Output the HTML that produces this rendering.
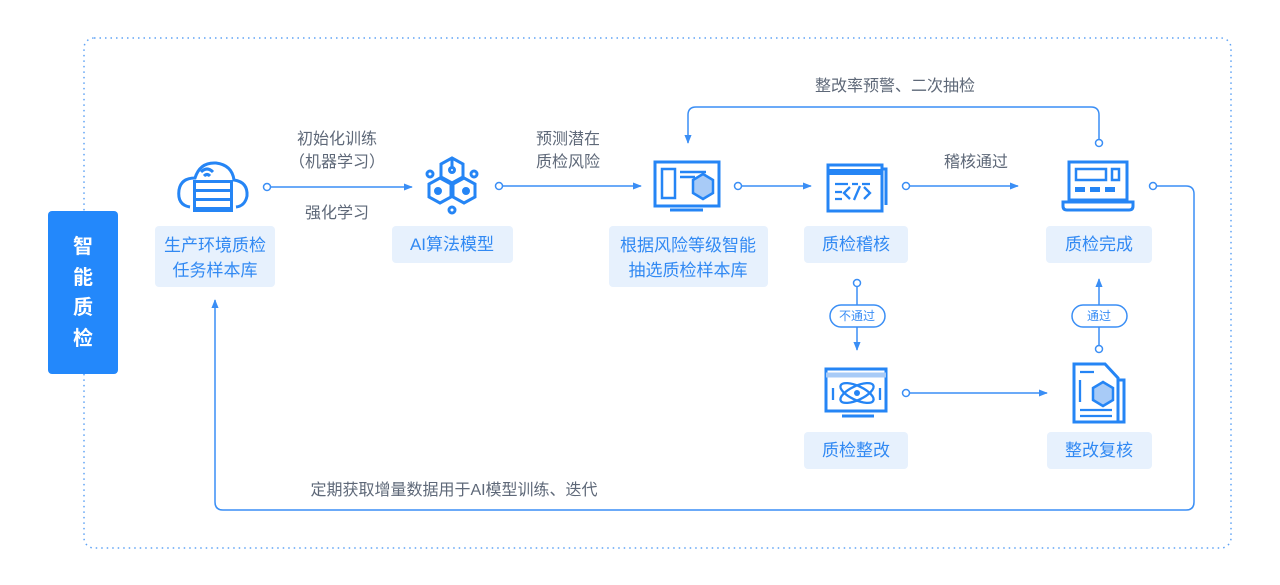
<!DOCTYPE html>
<html><head><meta charset="utf-8"><style>
html,body{margin:0;padding:0;background:#fff;}
svg{display:block;}
text{font-family:"Liberation Sans","Noto Sans CJK SC",sans-serif;}
.g{fill:#5e6878;font-size:16px;text-anchor:middle;}
.b{fill:#3189f3;font-size:17px;text-anchor:middle;}
.box{fill:#e7f1fd;}
.ln{stroke:#3a8ef5;stroke-width:1.5;fill:none;}
.ic{stroke:#2585f5;stroke-width:3;fill:none;}
.icf{fill:#2585f5;}
</style></head><body>
<svg width="1280" height="585" viewBox="0 0 1280 585">
<defs>
<marker id="ar" viewBox="0 0 10 10" refX="9" refY="5" markerWidth="6" markerHeight="6" orient="auto"><path d="M0,1 L10,5 L0,9 z" fill="#3a8ef5"/></marker>
</defs>
<rect x="84" y="38" width="1147" height="510" rx="10" fill="none" stroke="#5fa3f5" stroke-width="1.5" stroke-dasharray="1.5 4"/>
<rect x="48" y="211" width="70" height="163" rx="4" fill="#2388fb"/>
<g fill="#fff" font-size="20" font-weight="bold" text-anchor="middle">
<text x="83" y="253">智</text><text x="83" y="284">能</text><text x="83" y="314">质</text><text x="83" y="345">检</text></g>

<rect class="box" x="155" y="226" width="120" height="61" rx="4"/>
<text class="b" x="215" y="251">生产环境质检</text><text class="b" x="215" y="276">任务样本库</text>
<rect class="box" x="392" y="226" width="121" height="37" rx="4"/>
<text class="b" x="452" y="250">AI算法模型</text>
<rect class="box" x="609" y="226" width="159" height="61" rx="4"/>
<text class="b" x="688" y="251">根据风险等级智能</text><text class="b" x="688" y="276">抽选质检样本库</text>
<rect class="box" x="804" y="226" width="104" height="37" rx="4"/>
<text class="b" x="856" y="250">质检稽核</text>
<rect class="box" x="1046" y="226" width="106" height="37" rx="4"/>
<text class="b" x="1099" y="250">质检完成</text>
<rect class="box" x="804" y="432" width="104" height="37" rx="4"/>
<text class="b" x="856" y="456">质检整改</text>
<rect class="box" x="1047" y="432" width="105" height="37" rx="4"/>
<text class="b" x="1099" y="456">整改复核</text>

<g class="ln">
<circle cx="267" cy="187" r="3.5" fill="#fff"/><path d="M271 187H412" marker-end="url(#ar)"/>
<circle cx="499" cy="186" r="3.5" fill="#fff"/><path d="M503 186H641" marker-end="url(#ar)"/>
<circle cx="738" cy="186" r="3.5" fill="#fff"/><path d="M742 186H811" marker-end="url(#ar)"/>
<circle cx="906" cy="186" r="3.5" fill="#fff"/><path d="M910 186H1018" marker-end="url(#ar)"/>
<circle cx="1099" cy="143" r="3.5" fill="#fff"/><path d="M1099 139V115Q1099 107 1091 107H696Q688 107 688 115V143" marker-end="url(#ar)"/>
<circle cx="1153" cy="186" r="3.5" fill="#fff"/><path d="M1157 186H1186Q1194 186 1194 194V502Q1194 510 1186 510H223Q215 510 215 502V300" marker-end="url(#ar)"/>
<circle cx="857" cy="283" r="3.5" fill="#fff"/><path d="M857 287V350" marker-end="url(#ar)"/>
<circle cx="906" cy="393" r="3.5" fill="#fff"/><path d="M910 393H1047" marker-end="url(#ar)"/>
<circle cx="1099" cy="349" r="3.5" fill="#fff"/><path d="M1099 345V279" marker-end="url(#ar)"/>
</g>
<rect x="830" y="305" width="55" height="22" rx="11" fill="#fff" stroke="#3a8ef5" stroke-width="1.5"/>
<text x="857" y="320" fill="#3a8ef5" font-size="12" text-anchor="middle">不通过</text>
<rect x="1072" y="305" width="55" height="22" rx="11" fill="#fff" stroke="#3a8ef5" stroke-width="1.5"/>
<text x="1099" y="320" fill="#3a8ef5" font-size="12" text-anchor="middle">通过</text>

<text class="g" x="337" y="144">初始化训练</text>
<text class="g" x="337" y="167">（机器学习）</text>
<text class="g" x="337" y="218">强化学习</text>
<text class="g" x="568" y="144">预测潜在</text>
<text class="g" x="568" y="167">质检风险</text>
<text class="g" x="976" y="167">稽核通过</text>
<text class="g" x="895" y="91">整改率预警、二次抽检</text>
<text class="g" x="454" y="495">定期获取增量数据用于AI模型训练、迭代</text>

<g class="ic"><path d="M190 207 Q177 205 179 190 Q181 178 195 178 Q200 162 216 163 Q232 165 234 180 Q248 182 247 196 Q245 206 236 207"/>
<path d="M201 172 Q207 166 213 172 M204 176 Q207 173 210 176"/></g>
<rect x="193" y="180" width="40" height="32" fill="#2585f5"/>
<g fill="#fff"><rect x="196" y="183" width="34" height="6"/><rect x="196" y="192" width="34" height="6"/><rect x="196" y="201" width="34" height="6"/></g>
<g class="ic" stroke-width="2.8">
<path d="M452 158 L463 164 L463 177 L452 183 L441 177 L441 164Z"/>
<path d="M440 178 L451 184 L451 197 L440 203 L429 197 L429 184Z"/>
<path d="M464 178 L475 184 L475 197 L464 203 L453 197 L453 184Z"/>
<circle cx="452" cy="170" r="2.5"/><circle cx="438" cy="191" r="2.5"/><circle cx="466" cy="191" r="2.5"/>
<circle cx="430" cy="174" r="3"/><circle cx="474" cy="174" r="3"/><circle cx="452" cy="210" r="3"/>
<path d="M452 159V168 M441 191H436 M463 191H468"/></g>
<g class="ic"><rect x="655" y="162" width="64" height="44"/><path d="M670 210H703"/>
<rect x="662" y="169" width="13" height="29" stroke-width="2.5"/><path d="M680 172H706 M680 177H695" stroke-width="2.5"/></g>
<path d="M703 174 L713 180 L713 193 L703 199 L693 193 L693 180Z" fill="#a8cbf7" stroke="#2585f5" stroke-width="2.5"/>
<g class="ic"><rect x="828" y="165" width="54" height="46"/><path d="M882 169H886V205"/><path d="M828 172H882" stroke-width="6"/>
<path d="M835 184H848 M852 184H858 M862 184H870 M835 192H842 M835 199H842 M850 187L844 193L850 199 M860 186L854 200 M864 187L870 193L864 199" stroke-width="2.3"/></g>
<g class="ic"><rect x="1069" y="162" width="58" height="38"/><path d="M1063 202H1133V206Q1133 210 1129 210H1067Q1063 210 1063 206Z"/>
<rect x="1076" y="169" width="30" height="11" stroke-width="2.5"/><rect x="1112" y="169" width="7" height="11" stroke-width="2.5"/></g>
<g class="icf"><rect x="1075" y="187" width="10" height="5"/><rect x="1090" y="187" width="10" height="5"/><rect x="1105" y="187" width="10" height="5"/></g>
<g class="ic"><rect x="826" y="369" width="60" height="42"/><path d="M826 375H886" stroke-width="5" stroke="#a8cbf7"/><path d="M842 416H874"/>
<ellipse cx="857" cy="393" rx="18" ry="7" transform="rotate(25 857 393)" stroke-width="2.3"/>
<ellipse cx="857" cy="393" rx="18" ry="7" transform="rotate(-25 857 393)" stroke-width="2.3"/>
<path d="M833 388V400 M880 388V400" stroke-width="2.3"/></g>
<circle cx="857" cy="393" r="3" class="icf"/>
<g class="ic"><path d="M1074 364H1105L1118 378V422H1074Z"/><path d="M1118 380H1124V422H1118"/>
<path d="M1080 372H1094 M1080 380V402 M1080 410H1112 M1080 416H1112" stroke-width="2.3"/></g>
<path d="M1103 382 L1113 388 L1113 400 L1103 406 L1093 400 L1093 388Z" fill="#a8cbf7" stroke="#2585f5" stroke-width="2.5"/>
</svg>
</body></html>
